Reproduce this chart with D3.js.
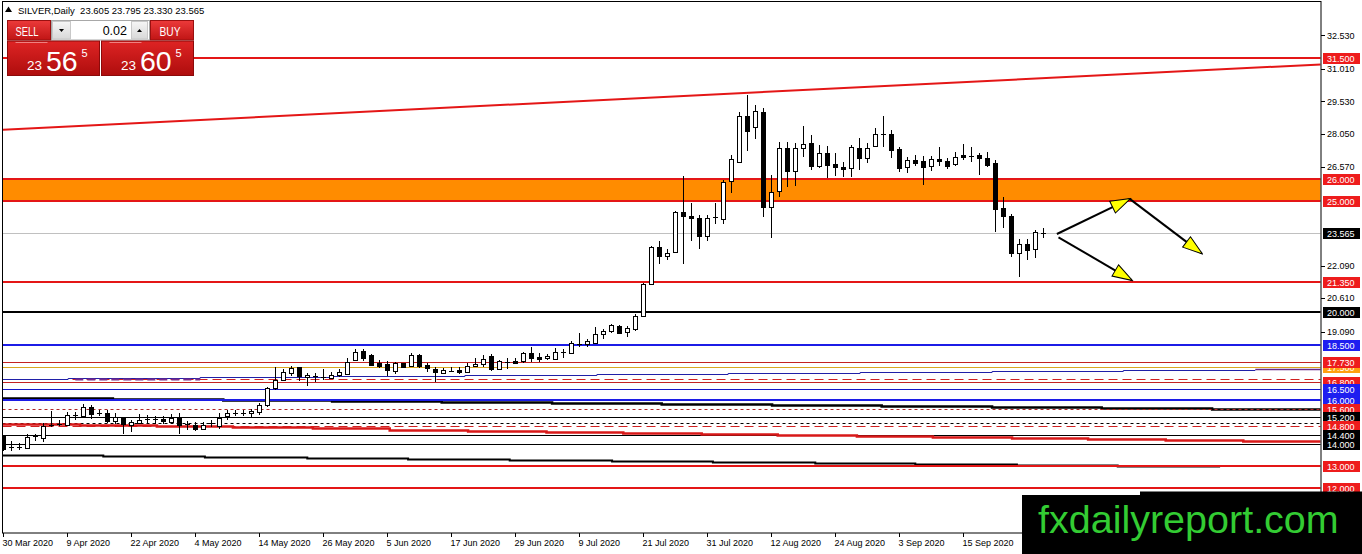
<!DOCTYPE html>
<html>
<head>
<meta charset="utf-8">
<script src="https://cdn.jsdelivr.net/npm/d3@7"></script>
<style>
html, body { margin: 0; padding: 0; background: #fff; overflow: hidden; }
svg { display: block; font-family: "Liberation Sans", Arial, sans-serif; }
</style>
</head>
<body>
<div id="chart"></div>
<script>
// Chart values
const symbolTitle = "SILVER,Daily  23.605 23.795 23.330 23.565";

const barOpen = [14.36,13.88,13.84,13.85,14.30,14.25,14.80,14.90,14.86,15.30,
  15.26,15.66,15.40,15.42,15.05,15.20,14.86,14.96,15.12,15.10,
  15.12,15.01,15.16,14.90,14.86,14.70,14.93,14.81,15.23,15.39,
  15.40,15.38,15.46,15.77,16.55,16.90,17.20,17.47,17.05,17.13,
  17.00,16.98,17.13,17.20,17.80,18.22,18.03,17.65,17.62,17.28,
  17.65,17.53,18.03,17.57,17.38,17.23,17.38,17.35,17.28,17.53,
  17.62,17.98,17.40,17.68,17.77,17.72,18.10,17.95,17.87,17.88,
  18.15,18.13,18.59,18.53,18.59,18.98,19.10,19.35,19.04,19.24,
  19.81,21.24,22.92,22.49,22.70,24.50,24.34,24.23,23.43,24.25,
  24.23,25.89,26.80,28.87,28.38,29.04,24.73,25.44,27.40,26.34,
  27.40,27.66,26.60,27.18,26.69,26.54,26.50,27.40,26.95,27.48,
  28.09,28.06,27.36,26.54,26.87,26.83,26.57,26.91,26.83,26.69,
  27.10,27.05,27.10,26.95,26.72,24.68,24.34,22.67,23.07,22.83,
  23.605];
const barHigh = [14.40,14.15,14.06,14.45,14.45,14.96,15.51,15.07,15.44,15.44,
  15.80,15.78,15.52,15.52,15.40,15.23,15.10,15.36,15.30,15.28,
  15.25,15.36,15.40,15.05,15.00,14.98,15.10,15.38,15.52,15.55,
  15.55,15.60,15.87,16.60,17.49,17.40,17.55,17.50,17.20,17.20,
  17.40,17.25,17.40,17.88,18.30,18.30,18.08,17.80,17.77,17.72,
  17.68,18.14,18.08,17.68,17.47,17.43,17.47,17.50,17.68,17.88,
  18.03,18.06,17.80,17.90,17.90,18.18,18.41,18.10,18.06,18.33,
  18.29,18.68,19.01,18.77,19.31,19.19,19.46,19.40,19.35,19.88,
  21.29,22.97,23.22,22.84,24.57,26.15,24.91,24.38,24.38,24.91,
  25.97,27.10,29.06,29.82,29.37,29.22,26.19,27.70,27.70,27.63,
  28.42,28.01,27.56,27.51,27.18,26.80,27.56,27.86,27.63,28.31,
  28.87,28.25,27.45,27.02,27.09,27.06,27.06,27.45,26.98,27.22,
  27.60,27.45,27.18,27.25,26.87,25.21,24.43,23.28,23.28,23.70,
  23.795];
const barLow = [13.70,13.69,13.71,13.80,14.15,14.10,14.78,14.80,14.80,15.10,
  15.22,15.14,15.26,14.97,14.92,14.45,14.56,14.92,14.96,14.92,
  14.90,14.92,14.47,14.62,14.60,14.62,14.77,14.66,15.10,15.26,
  15.28,15.20,15.30,15.68,16.45,16.85,17.10,16.85,16.63,16.80,
  16.90,16.93,17.05,17.13,17.75,17.75,17.52,17.43,17.10,17.17,
  17.43,17.47,17.43,17.28,16.82,17.20,17.25,17.17,17.20,17.50,
  17.50,17.31,17.35,17.38,17.62,17.65,17.72,17.72,17.80,17.83,
  17.88,18.10,18.38,18.38,18.56,18.77,19.01,18.98,18.83,19.13,
  19.77,21.21,22.16,22.32,22.65,22.16,23.22,22.82,23.20,23.97,
  23.95,25.36,26.73,27.30,27.81,24.30,23.32,25.21,25.66,25.69,
  27.02,26.42,26.50,26.05,26.15,26.09,26.09,26.42,26.75,27.45,
  27.48,26.95,26.34,26.27,26.60,25.74,26.36,26.60,26.45,26.60,
  26.87,26.80,26.19,26.54,23.62,23.78,22.49,21.58,22.34,22.42,
  23.33];
const barClose = [13.75,13.86,13.86,14.33,14.34,14.81,14.85,14.92,15.31,15.33,
  15.69,15.36,15.38,15.05,15.23,14.90,15.01,15.10,15.11,15.12,
  15.01,15.17,14.86,14.88,14.66,14.86,14.95,15.19,15.38,15.41,
  15.42,15.48,15.77,16.52,16.90,17.25,17.43,17.08,17.13,17.07,
  17.02,17.13,17.28,17.73,18.18,17.92,17.57,17.53,17.35,17.65,
  17.47,18.03,17.53,17.43,17.23,17.35,17.32,17.25,17.53,17.62,
  17.83,17.38,17.75,17.70,17.68,18.10,17.88,17.87,17.98,18.18,
  18.18,18.59,18.53,18.68,18.98,19.13,19.38,19.04,19.24,19.81,
  21.24,22.91,22.49,22.64,24.50,24.30,24.23,23.43,24.26,24.27,
  25.89,26.91,28.87,28.20,29.10,24.73,25.41,27.40,26.34,27.40,
  27.59,26.60,27.18,26.65,26.54,26.45,27.45,26.95,27.40,28.04,
  28.04,27.33,26.50,26.87,26.75,26.57,26.91,26.80,26.60,27.02,
  27.02,27.07,26.95,26.65,24.64,24.30,22.67,23.07,22.79,23.60,
  23.565];

const dateTickBars = [0, 8, 16, 24, 32, 40, 48, 56, 64, 72, 80, 88, 96, 104, 112, 120];
const dateTickLabels = ["30 Mar 2020", "9 Apr 2020", "22 Apr 2020", "4 May 2020",
  "14 May 2020", "26 May 2020", "5 Jun 2020", "17 Jun 2020", "29 Jun 2020",
  "9 Jul 2020", "21 Jul 2020", "31 Jul 2020", "12 Aug 2020", "24 Aug 2020",
  "3 Sep 2020", "15 Sep 2020"];

const priceTicks = [32.53, 31.01, 29.53, 28.05, 26.57, 22.09, 20.61, 19.09];

const currentPrice = 23.565;
const zoneTop = 26.0;
const zoneBottom = 25.0;
const levelPrices = [31.5, 21.35, 20.0, 18.5, 17.73, 17.5, 16.94, 16.8, 16.5, 16.0,
  15.6, 15.2, 14.95, 14.8, 14.4, 14.0, 13.0, 12.0];
// right-hand boxes, in the order they are painted
const boxPrices = [31.5, 26.0, 25.0, 23.565, 21.35, 20.0, 18.5, 17.5, 17.73, 16.8,
  16.5, 16.0, 15.6, 15.2, 14.8, 14.4, 14.0, 13.0, 12.0];

// stepped lines: bar positions where the level changes, and the level of each step
const blueStepBars = [8.1, 24.6, 41.2, 57.7, 74.2, 90.6, 107.1, 123.6, 140.0];
const blueStepValues = [16.94, 17.00, 17.04, 17.09, 17.14, 17.19, 17.23, 17.27, 17.31, 17.35];
const purpleStep = [[156.5, 17.40], [164.7, 17.40]];
const purpleDash = [[9.0, 16.94], [24.6, 16.94]];
const blackStepBars = [13.7, 27.5, 41.1, 54.8, 68.6, 82.3, 96.1, 109.8, 123.6, 137.3, 151.1];
const blackStepValues = [16.07, 16.02, 15.98, 15.95, 15.89, 15.84, 15.80, 15.77, 15.72, 15.66, 15.61, 15.58];
const redStepBars = [9.6, 19.2, 28.7, 38.7, 48.3, 58.1, 67.9, 77.5, 87.3, 96.8, 106.7, 116.2, 126.1, 135.6, 145.3, 155.0];
const redStepValues = [14.90, 14.86, 14.83, 14.75, 14.71, 14.65, 14.58, 14.52, 14.48, 14.43,
  14.39, 14.36, 14.31, 14.27, 14.22, 14.18, 14.13];
const lowStepBars = [12.5, 25.2, 38.0, 50.6, 63.3, 76.1, 88.7, 101.5, 114.0, 126.7, 139.3];
const lowStepValues = [13.50, 13.45, 13.40, 13.35, 13.30, 13.26, 13.22, 13.18, 13.14, 13.10, 13.05, 13.01];
const lowStepEnd = 152.1;

const trendLine = [[-0.4, 28.24], [164.7, 31.21]];
const arrowLines = [
  [[131.7, 23.52], [140.8, 25.11]],
  [[140.8, 25.11], [149.8, 22.64]],
  [[131.9, 23.37], [141.05, 21.43]]
];

const sellPrice = ["23", "56", "5"];
const buyPrice = ["23", "60", "5"];
const lotSize = "0.02";
const watermark = "fxdailyreport.com";

// ---------------------------------------------------------------
const width = 1362, height = 554;
const plot = {left: 2.5, right: 1321, top: 1.5, bottom: 533};
const lastBar = 164.7;

const x = d3.scaleLinear().domain([0, 130]).range([3.3, 1043.3]);
const y = d3.scaleLinear().domain([12, 32.53]).range([488, 35.3]);

const svg = d3.select("#chart").append("svg")
  .attr("width", width).attr("height", height)
  .attr("viewBox", [0, 0, width, height]);

const defs = svg.append("defs");
defs.append("clipPath").attr("id", "plotClip")
  .append("rect")
  .attr("x", plot.left + 0.5).attr("y", plot.top + 0.5)
  .attr("width", plot.right - plot.left - 1).attr("height", plot.bottom - plot.top - 1);

function addGradient(id, top, bottom) {
  const g = defs.append("linearGradient").attr("id", id)
    .attr("x1", 0).attr("y1", 0).attr("x2", 0).attr("y2", 1);
  g.append("stop").attr("offset", "0%").attr("stop-color", top);
  g.append("stop").attr("offset", "100%").attr("stop-color", bottom);
}
addGradient("btnRed", "#ec3a3a", "#c01515");
addGradient("priceRed", "#de2424", "#ae0d0d");
addGradient("btnGray", "#f6f6f6", "#d8d8d8");

defs.append("marker").attr("id", "yellowHead")
  .attr("viewBox", "0 0 22 16").attr("markerUnits", "userSpaceOnUse")
  .attr("markerWidth", 22).attr("markerHeight", 16)
  .attr("refX", 20).attr("refY", 8).attr("orient", "auto")
  .append("path").attr("d", "M1,1.5 L21,8 L1,14.5 Z")
  .attr("fill", "#ffff00").attr("stroke", "#000").attr("stroke-width", 1);

const chart = svg.append("g").attr("clip-path", "url(#plotClip)");

// Supply zone
chart.append("rect")
  .attr("x", plot.left).attr("width", plot.right - plot.left)
  .attr("y", y(zoneTop)).attr("height", y(zoneBottom) - y(zoneTop))
  .attr("fill", "#ff8c00");

// current price line
chart.append("line")
  .attr("x1", plot.left).attr("x2", plot.right)
  .attr("y1", Math.round(y(currentPrice)) + 0.5).attr("y2", Math.round(y(currentPrice)) + 0.5)
  .attr("stroke", "#c0c0c0").attr("stroke-width", 1);

// Horizontal levels
const red = "#e41616";
const levelStyle = {
  31.5: {c: red, w: 2}, 21.35: {c: red, w: 2}, 20: {c: "#000", w: 2},
  18.5: {c: "#1c1ce6", w: 2}, 17.73: {c: "#c42222", w: 1}, 17.5: {c: "#d9a520", w: 1},
  16.94: {c: "#d02020", w: 1, d: "9,5"}, 16.8: {c: "#c42222", w: 1},
  16.5: {c: "#1616c8", w: 1}, 16: {c: "#1c1ce6", w: 2}, 15.6: {c: "#b02828", w: 1, d: "3,3"},
  15.2: {c: "#000", w: 1}, 14.95: {c: "#000", w: 1, d: "3,3"}, 14.8: {c: "#d02020", w: 1, d: "9,5"},
  14.4: {c: "#000", w: 1}, 14: {c: "#000", w: 1}, 13: {c: red, w: 2}, 12: {c: red, w: 2}
};
function hy(p, w) {
  const v = Math.round(y(p));
  return w % 2 ? v + 0.5 : v;
}

// stepped lines
function stepPoints(bars, values, start, end) {
  const pts = [[start, values[0]]];
  bars.forEach((b, k) => pts.push([b, values[k + 1]]));
  pts.push([end, values[values.length - 1]]);
  return pts;
}
const stepLine = d3.line().x(d => x(d[0])).y(d => Math.round(y(d[1])) + 0.5).curve(d3.curveStepAfter);
const flatLine = d3.line().x(d => x(d[0])).y(d => Math.round(y(d[1])) + 0.5);

chart.append("path")
  .attr("d", stepLine(stepPoints(blackStepBars, blackStepValues, -0.4, lastBar)))
  .attr("fill", "none").attr("stroke", "#000").attr("stroke-width", 2.5);

chart.selectAll("line.level")
  .data(levelPrices.filter(p => p !== 16 && p !== 13))
  .join("line").attr("class", "level")
  .attr("x1", plot.left).attr("x2", plot.right)
  .attr("y1", d => hy(d, levelStyle[d].w)).attr("y2", d => hy(d, levelStyle[d].w))
  .attr("stroke", d => levelStyle[d].c)
  .attr("stroke-width", d => levelStyle[d].w)
  .attr("stroke-dasharray", d => levelStyle[d].d || null);

chart.append("path")
  .attr("d", stepLine(stepPoints(blueStepBars, blueStepValues, -0.4, 156.5)))
  .attr("fill", "none").attr("stroke", "#2020a8").attr("stroke-width", 1);
chart.append("path").attr("d", flatLine(purpleStep))
  .attr("fill", "none").attr("stroke", "#6a2a8a").attr("stroke-width", 1.5);
chart.append("path").attr("d", flatLine(purpleDash))
  .attr("fill", "none").attr("stroke", "#7a2a8a").attr("stroke-width", 2)
  .attr("stroke-dasharray", "8,4");

chart.append("path")
  .attr("d", stepLine(stepPoints(redStepBars, redStepValues, -0.4, lastBar)))
  .attr("fill", "none").attr("stroke", "#d81818").attr("stroke-width", 2.5);

chart.append("path")
  .attr("d", stepLine(stepPoints(lowStepBars, lowStepValues, -0.4, lowStepEnd)))
  .attr("fill", "none").attr("stroke", "#000").attr("stroke-width", 2);

// lines drawn above the stepped ones
chart.selectAll("line.level2")
  .data(levelPrices.filter(p => p === 16 || p === 13))
  .join("line").attr("class", "level2")
  .attr("x1", plot.left).attr("x2", plot.right)
  .attr("y1", d => hy(d, levelStyle[d].w)).attr("y2", d => hy(d, levelStyle[d].w))
  .attr("stroke", d => levelStyle[d].c)
  .attr("stroke-width", d => levelStyle[d].w);

// zone borders
chart.selectAll("line.zone")
  .data([zoneTop, zoneBottom])
  .join("line").attr("class", "zone")
  .attr("x1", plot.left).attr("x2", plot.right)
  .attr("y1", d => hy(d, 2)).attr("y2", d => hy(d, 2))
  .attr("stroke", red).attr("stroke-width", 2);

// trend line
chart.append("path").attr("d", d3.line().x(d => x(d[0])).y(d => y(d[1]))(trendLine))
  .attr("fill", "none").attr("stroke", red).attr("stroke-width", 2);

// Candles
const bars = d3.range(barOpen.length).map(i => ({
  i, o: barOpen[i], h: barHigh[i], l: barLow[i], c: barClose[i]
}));
const candle = chart.append("g").attr("shape-rendering", "crispEdges")
  .selectAll("g").data(bars).join("g")
  .attr("transform", d => `translate(${Math.round(x(d.i))},0)`);

candle.append("line")
  .attr("x1", 0.5).attr("x2", 0.5)
  .attr("y1", d => y(d.h)).attr("y2", d => y(d.l))
  .attr("stroke", "#000");

candle.filter(d => Math.abs(y(d.o) - y(d.c)) >= 1.5)
  .append("rect")
  .attr("x", -1.5).attr("width", 4)
  .attr("y", d => Math.round(Math.min(y(d.o), y(d.c))) + 0.5)
  .attr("height", d => Math.max(1, Math.round(Math.abs(y(d.o) - y(d.c)))))
  .attr("fill", d => d.c >= d.o ? "#fff" : "#000")
  .attr("stroke", "#000");

candle.filter(d => Math.abs(y(d.o) - y(d.c)) < 1.5)
  .append("line")
  .attr("x1", -2).attr("x2", 3)
  .attr("y1", d => Math.round(y(d.c)) + 0.5).attr("y2", d => Math.round(y(d.c)) + 0.5)
  .attr("stroke", "#000");

// Arrows
chart.selectAll("path.arrow").data(arrowLines).join("path")
  .attr("class", "arrow")
  .attr("d", d3.line().x(d => x(d[0])).y(d => y(d[1])))
  .attr("fill", "none").attr("stroke", "#000").attr("stroke-width", 2)
  .attr("marker-end", "url(#yellowHead)");

// Frame
svg.append("rect")
  .attr("x", plot.left).attr("y", plot.top)
  .attr("width", plot.right - plot.left).attr("height", plot.bottom - plot.top)
  .attr("fill", "none").attr("stroke", "#000").attr("stroke-width", 1);

// Price axis
const yAxis = svg.append("g").attr("font-size", 9);
yAxis.selectAll("line").data(priceTicks).join("line")
  .attr("x1", plot.right).attr("x2", plot.right + 4)
  .attr("y1", d => Math.round(y(d)) + 0.5).attr("y2", d => Math.round(y(d)) + 0.5)
  .attr("stroke", "#000");
yAxis.selectAll("text").data(priceTicks).join("text")
  .attr("x", plot.right + 6).attr("y", d => y(d) + 3.3)
  .attr("fill", "#000")
  .text(d => d.toFixed(3));

const boxColor = {
  31.5: "#ee1c1c", 26: "#ee1c1c", 25: "#ee1c1c", 23.565: "#000", 21.35: "#ee1c1c",
  20: "#000", 18.5: "#1e1ef0", 17.5: "#ff9f10", 17.73: "#ee1c1c", 16.8: "#ee1c1c",
  16.5: "#1e1ef0", 16: "#1e1ef0", 15.6: "#ee1c1c", 15.2: "#000", 14.8: "#ee1c1c",
  14.4: "#000", 14: "#000", 13: "#ee1c1c", 12: "#ee1c1c"
};
const boxes = svg.append("g").attr("font-size", 9)
  .selectAll("g").data(boxPrices).join("g")
  .attr("transform", d => `translate(${plot.right + 2},${Math.round(y(d)) - 5})`);
boxes.append("rect").attr("width", 37).attr("height", 11)
  .attr("fill", d => boxColor[d]);
boxes.append("text").attr("x", 4).attr("y", 8.8)
  .attr("fill", "#fff").text(d => d.toFixed(3));

// Date axis
const xAxis = svg.append("g").attr("font-size", 9);
xAxis.selectAll("line").data(dateTickBars).join("line")
  .attr("x1", d => Math.round(x(d)) + 0.5).attr("x2", d => Math.round(x(d)) + 0.5)
  .attr("y1", plot.bottom).attr("y2", plot.bottom + 4)
  .attr("stroke", "#000");
xAxis.selectAll("text").data(dateTickBars).join("text")
  .attr("x", d => x(d) - 0.8).attr("y", 546)
  .attr("fill", "#000")
  .text((d, k) => dateTickLabels[k]);

// Title
svg.append("path").attr("d", "M5,12 L8.5,6.5 L12,12 Z").attr("fill", "#000");
svg.append("text").attr("x", 18).attr("y", 13.5).attr("font-size", 9.5)
  .attr("xml:space", "preserve").style("white-space", "pre")
  .text(symbolTitle);

// One-click trading panel
const panel = svg.append("g");
panel.append("rect").attr("x", 7.5).attr("y", 20.5).attr("width", 186).attr("height", 55)
  .attr("fill", "#fff");
panel.append("rect").attr("x", 7.5).attr("y", 20.5).attr("width", 43).attr("height", 19.5)
  .attr("fill", "url(#btnRed)").attr("stroke", "#9a1010");
panel.append("rect").attr("x", 150.5).attr("y", 20.5).attr("width", 43).attr("height", 19.5)
  .attr("fill", "url(#btnRed)").attr("stroke", "#9a1010");
panel.append("rect").attr("x", 51.5).attr("y", 20.5).attr("width", 98).attr("height", 19.5)
  .attr("fill", "#fff").attr("stroke", "#a8a8a8");
panel.append("rect").attr("x", 52.5).attr("y", 21.5).attr("width", 18).attr("height", 17.5)
  .attr("fill", "url(#btnGray)").attr("stroke", "#c8c8c8");
panel.append("rect").attr("x", 131.5).attr("y", 21.5).attr("width", 16).attr("height", 17.5)
  .attr("fill", "url(#btnGray)").attr("stroke", "#c8c8c8");
panel.append("path").attr("d", "M59,29 L64,29 L61.5,32 Z").attr("fill", "#000");
panel.append("path").attr("d", "M137,32 L142,32 L139.5,29 Z").attr("fill", "#000");
panel.append("text").attr("x", 127).attr("y", 35).attr("font-size", 12.5)
  .attr("text-anchor", "end").attr("fill", "#000").text(lotSize);
panel.append("text").attr("x", 27).attr("y", 35.5).attr("font-size", 12)
  .attr("text-anchor", "middle").attr("fill", "#fff")
  .attr("textLength", 23).attr("lengthAdjust", "spacingAndGlyphs").text("SELL");
panel.append("text").attr("x", 170).attr("y", 35.5).attr("font-size", 12)
  .attr("text-anchor", "middle").attr("fill", "#fff")
  .attr("textLength", 21).attr("lengthAdjust", "spacingAndGlyphs").text("BUY");

function priceBox(x0, parts) {
  panel.append("rect").attr("x", x0).attr("y", 41).attr("width", 92).attr("height", 34.5)
    .attr("fill", "url(#priceRed)").attr("stroke", "#8c0a0a");
  panel.append("line").attr("x1", x0 + 8).attr("x2", x0 + 40).attr("y1", 42.5).attr("y2", 42.5)
    .attr("stroke", "#f08080");
  panel.append("text").attr("x", x0 + 19.5).attr("y", 70).attr("font-size", 13.5)
    .attr("fill", "#fff").text(parts[0]);
  panel.append("text").attr("x", x0 + 38.5).attr("y", 70.5).attr("font-size", 28.5)
    .attr("fill", "#fff").text(parts[1]);
  panel.append("text").attr("x", x0 + 74).attr("y", 57).attr("font-size", 11)
    .attr("fill", "#fff").text(parts[2]);
}
priceBox(7.5, sellPrice);
priceBox(101.5, buyPrice);

// Watermark
svg.append("rect").attr("x", 1022).attr("y", 495).attr("width", width - 1022).attr("height", height - 495)
  .attr("fill", "#000");
svg.append("rect").attr("x", 1140).attr("y", 491.5).attr("width", width - 1140).attr("height", 4)
  .attr("fill", "#000");
svg.append("text").attr("x", 1038).attr("y", 533).attr("font-size", 39.5)
  .attr("fill", "#33cc33").text(watermark);
</script>
</body>
</html>
